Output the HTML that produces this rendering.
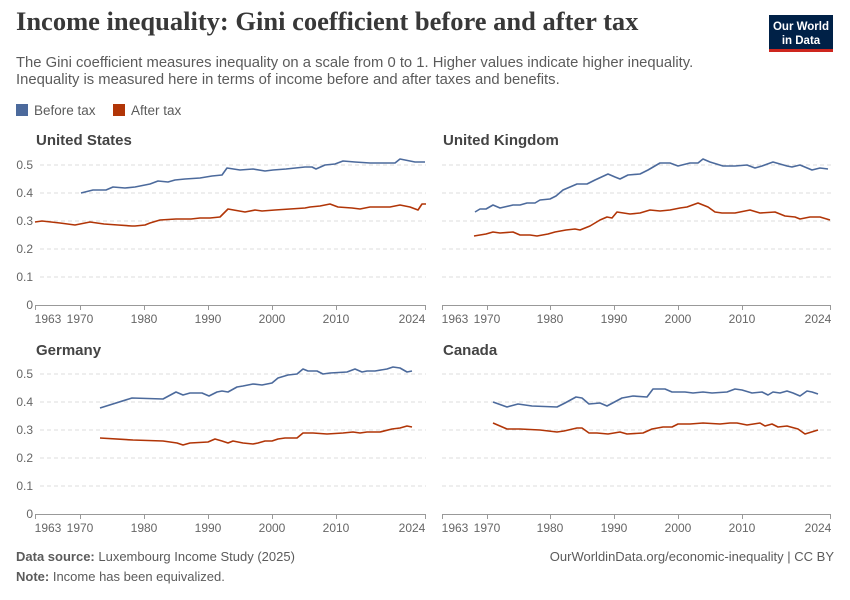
<!DOCTYPE html>
<html><head><meta charset="utf-8"><style>
body{margin:0;background:#fff;}
svg{display:block;font-family:"Liberation Sans",sans-serif;}
</style></head><body>
<svg width="850" height="600" viewBox="0 0 850 600" xmlns="http://www.w3.org/2000/svg">
<text x="16" y="30" font-family="Liberation Serif,serif" font-size="26.5" font-weight="bold" fill="#383838">Income inequality: Gini coefficient before and after tax</text>
<rect x="769" y="15" width="64" height="35" fill="#002147"/>
<rect x="769" y="49" width="64" height="3" fill="#ce261e"/>
<text x="801" y="30" font-size="11.5" font-weight="bold" fill="#fff" text-anchor="middle">Our World</text>
<text x="801" y="44" font-size="11.5" font-weight="bold" fill="#fff" text-anchor="middle">in Data</text>
<text x="16" y="67" font-size="14.8" fill="#5b5b5b">The Gini coefficient measures inequality on a scale from 0 to 1. Higher values indicate higher inequality.</text>
<text x="16" y="84" font-size="14.8" fill="#5b5b5b">Inequality is measured here in terms of income before and after taxes and benefits.</text>
<rect x="16" y="104" width="12" height="12" fill="#4c6a9c"/>
<text x="34" y="115" font-size="13.5" fill="#5b5b5b">Before tax</text>
<rect x="113" y="104" width="12" height="12" fill="#b13507"/>
<text x="131" y="115" font-size="13.5" fill="#5b5b5b">After tax</text>

<g font-size="15" font-weight="bold" fill="#444">
<text x="36" y="145">United States</text>
<text x="443" y="145">United Kingdom</text>
<text x="36" y="355">Germany</text>
<text x="443" y="355">Canada</text>
</g>

<g stroke="#ddd" stroke-dasharray="4,3" stroke-width="1">
<path d="M40 165H426M40 193H426M40 221H426M40 249H426M40 277H426"/>
<path d="M442 165H831M442 193H831M442 221H831M442 249H831M442 277H831"/>
<path d="M40 374H426M40 402H426M40 430H426M40 458H426M40 486H426"/>
<path d="M442 374H831M442 402H831M442 430H831M442 458H831M442 486H831"/>
</g>
<g stroke="#999" stroke-width="1">
<path d="M35 305.5H426M442 305.5H831M35 514.5H426M442 514.5H831"/>
<path d="M35.5 305v5M80.5 305v5M144.5 305v5M208.5 305v5M272.5 305v5M336.5 305v5M425.5 305v5"/>
<path d="M442.5 305v5M487.5 305v5M550.5 305v5M614.5 305v5M678.5 305v5M742.5 305v5M830.5 305v5"/>
<path d="M35.5 514v5M80.5 514v5M144.5 514v5M208.5 514v5M272.5 514v5M336.5 514v5M425.5 514v5"/>
<path d="M442.5 514v5M487.5 514v5M550.5 514v5M614.5 514v5M678.5 514v5M742.5 514v5M830.5 514v5"/>
</g>
<g font-size="12" fill="#666" text-anchor="end">
<text x="33" y="169">0.5</text><text x="33" y="197">0.4</text><text x="33" y="225">0.3</text><text x="33" y="253">0.2</text><text x="33" y="281">0.1</text><text x="33" y="309">0</text>
<text x="33" y="378">0.5</text><text x="33" y="406">0.4</text><text x="33" y="434">0.3</text><text x="33" y="462">0.2</text><text x="33" y="490">0.1</text><text x="33" y="518">0</text>
</g>
<g font-size="12" fill="#666" text-anchor="middle">
<text x="48" y="323">1963</text><text x="80" y="323">1970</text><text x="144" y="323">1980</text><text x="208" y="323">1990</text><text x="272" y="323">2000</text><text x="336" y="323">2010</text><text x="412" y="323">2024</text>
<text x="455" y="323">1963</text><text x="487" y="323">1970</text><text x="550" y="323">1980</text><text x="614" y="323">1990</text><text x="678" y="323">2000</text><text x="742" y="323">2010</text><text x="818" y="323">2024</text>
<text x="48" y="532">1963</text><text x="80" y="532">1970</text><text x="144" y="532">1980</text><text x="208" y="532">1990</text><text x="272" y="532">2000</text><text x="336" y="532">2010</text><text x="412" y="532">2024</text>
<text x="455" y="532">1963</text><text x="487" y="532">1970</text><text x="550" y="532">1980</text><text x="614" y="532">1990</text><text x="678" y="532">2000</text><text x="742" y="532">2010</text><text x="818" y="532">2024</text>
</g>

<g fill="none" stroke-width="1.6" stroke-linejoin="round">
<polyline stroke="#4c6a9c" points="81,193 93,190 106,190 113,187 125,188 135,187 150,184 158,181 168,182 175,180 185,179 200,178 212,176 222,175 227,168 240,170 253,169 265,171 273,170 286,169 305,167 312,167 316,169 325,165 335,164 343,161 355,162 370,163 395,163 400,159 415,162 425,162"/>
<polyline stroke="#b13507" points="35,222 42,221 60,223 75,225 90,222 104,224 118,225 132,226 135,226 145,225 150,223 160,220 176,219 191,219 200,218 210,218 220,217 228,209 245,212 255,210 262,211 275,210 290,209 305,208 310,207 320,206 330,204 338,207 352,208 360,209 370,207 390,207 395,206 400,205 410,207 418,210 422,204 426,204"/>
<polyline stroke="#4c6a9c" points="475,212 480,209 486,209 493,205 500,208 513,205 520,205 527,203 535,203 540,200 550,199 556,196 563,190 577,184 587,184 595,180 608,174 615,177 620,179 628,175 640,174 648,170 660,163 670,163 678,166 690,163 698,163 703,159 710,162 723,166 735,166 747,165 755,168 762,166 773,162 787,166 792,167 800,165 812,170 820,168 828,169"/>
<polyline stroke="#b13507" points="474,236 486,234 493,232 500,233 513,232 520,235 530,235 537,236 548,234 555,232 566,230 575,229 580,230 590,226 600,220 607,217 612,218 617,212 630,214 640,213 650,210 660,211 670,210 680,208 687,207 698,203 708,207 715,212 722,213 735,213 745,211 750,210 760,213 775,212 785,216 795,217 800,219 810,217 820,217 830,220"/>
<polyline stroke="#4c6a9c" points="100,408 132,398 163,399 176,392 183,395 190,393 202,393 209,396 217,392 222,391 228,392 237,387 243,386 253,384 262,385 272,383 278,378 288,375 297,374 303,369 308,371 317,371 323,374 330,373 347,372 355,369 362,372 367,371 375,371 387,369 393,367 400,368 407,372 412,371"/>
<polyline stroke="#b13507" points="100,438 133,440 163,441 177,443 183,445 190,443 208,442 215,439 222,441 228,443 233,441 243,443 253,444 258,443 265,441 272,441 278,439 285,438 297,438 303,433 313,433 327,434 343,433 353,432 360,433 367,432 380,432 392,429 400,428 407,426 412,427"/>
<polyline stroke="#4c6a9c" points="493,402 507,407 518,404 532,406 557,407 565,403 576,397 582,398 589,404 600,403 607,406 622,398 633,396 647,397 653,389 665,389 672,392 685,392 693,393 703,392 712,393 727,392 735,389 742,390 752,393 762,392 768,395 773,392 780,393 787,391 793,393 800,396 807,391 812,392 818,394"/>
<polyline stroke="#b13507" points="493,423 507,429 520,429 540,430 557,432 564,431 577,428 582,428 589,433 597,433 608,434 620,432 627,434 643,433 652,429 663,427 672,427 678,424 690,424 703,423 720,424 730,423 737,423 747,425 760,423 765,426 772,424 778,427 787,426 798,429 805,434 818,430"/>
</g>

<text x="16" y="561" font-size="13" fill="#5b5b5b"><tspan font-weight="bold">Data source:</tspan> Luxembourg Income Study (2025)</text>
<text x="834" y="561" font-size="13" fill="#5b5b5b" text-anchor="end">OurWorldinData.org/economic-inequality | CC BY</text>
<text x="16" y="581" font-size="13" fill="#5b5b5b"><tspan font-weight="bold">Note:</tspan> Income has been equivalized.</text>
</svg>
</body></html>
